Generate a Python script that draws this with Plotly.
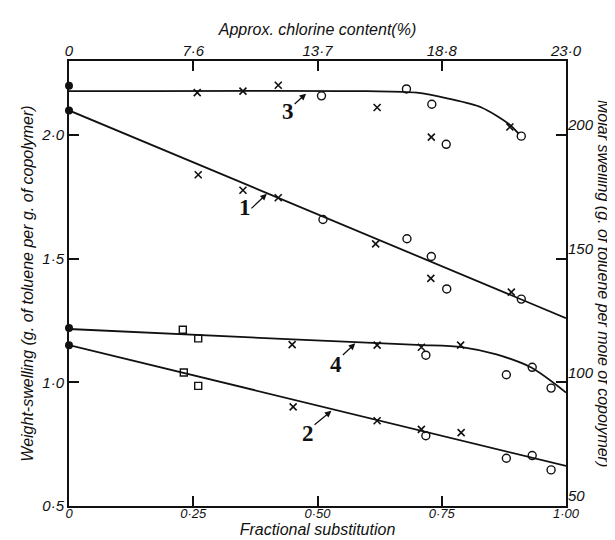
import plotly.graph_objects as go

# ---------------- data ----------------
FRAC_TICKS = [0, 0.25, 0.5, 0.75, 1.0]
FRAC_LABELS = ['0', '0·25', '0·50', '0·75', '1·00']
CHLORINE_LABELS = ['0', '7·6', '13·7', '18·8', '23·0']
WEIGHT_TICKS = [0.5, 1.0, 1.5, 2.0]
WEIGHT_LABELS = ['0·5', '1·0', '1·5', '2·0']
MOLAR_TICKS = [50, 100, 150, 200]
MOLAR_LABELS = ['50', '100', '150', '200']

# Curve 1
C1_CROSS_X = [0.260, 0.350, 0.421, 0.617, 0.728, 0.890]
C1_CROSS_Y = [1.840, 1.777, 1.747, 1.560, 1.421, 1.365]
C1_CIRC_X = [0.511, 0.680, 0.729, 0.760, 0.910]
C1_CIRC_Y = [1.659, 1.581, 1.509, 1.378, 1.337]
C1_DOT_X = [0.0]
C1_DOT_Y = [2.10]
C1_LINE_X = [0.0, 1.0]
C1_LINE_Y = [2.10, 1.26]

# Curve 3
C3_CROSS_X = [0.258, 0.350, 0.421, 0.620, 0.729, 0.887]
C3_CROSS_Y = [2.172, 2.178, 2.202, 2.112, 1.992, 2.033]
C3_CIRC_X = [0.508, 0.679, 0.730, 0.759, 0.910]
C3_CIRC_Y = [2.159, 2.187, 2.125, 1.963, 1.996]
C3_DOT_X = [0.0]
C3_DOT_Y = [2.20]
C3_CURVE_X = [0.0, 0.60, 0.70, 0.763, 0.83, 0.885, 0.905]
C3_CURVE_Y = [2.178, 2.178, 2.172, 2.148, 2.112, 2.045, 2.005]

# Curve 4
C4_SQ_X = [0.229, 0.260]
C4_SQ_Y = [1.213, 1.178]
C4_CROSS_X = [0.449, 0.620, 0.709, 0.788]
C4_CROSS_Y = [1.153, 1.151, 1.142, 1.151]
C4_CIRC_X = [0.718, 0.880, 0.932, 0.970]
C4_CIRC_Y = [1.110, 1.031, 1.061, 0.977]
C4_DOT_X = [0.0]
C4_DOT_Y = [1.22]
C4_CURVE_X = [0.0, 0.45, 0.70, 0.79, 0.86, 0.93, 1.0]
C4_CURVE_Y = [1.216, 1.174, 1.152, 1.143, 1.113, 1.060, 0.959]

# Curve 2
C2_SQ_X = [0.231, 0.260]
C2_SQ_Y = [1.040, 0.986]
C2_CROSS_X = [0.451, 0.620, 0.709, 0.789]
C2_CROSS_Y = [0.901, 0.845, 0.810, 0.797]
C2_CIRC_X = [0.718, 0.880, 0.932, 0.970]
C2_CIRC_Y = [0.784, 0.693, 0.704, 0.646]
C2_DOT_X = [0.0]
C2_DOT_Y = [1.15]
C2_LINE_X = [0.0, 1.0]
C2_LINE_Y = [1.151, 0.662]

# Curve labels: text, label position, arrow tail, arrow head
CURVE_LABELS = ['1', '2', '3', '4']
LABEL_X = [0.354, 0.481, 0.441, 0.538]
LABEL_Y = [1.709, 0.793, 2.094, 1.074]
ARROW_TAIL_X = [0.364, 0.491, 0.451, 0.548]
ARROW_TAIL_Y = [1.698, 0.824, 2.121, 1.105]
ARROW_HEAD_X = [0.398, 0.528, 0.477, 0.576]
ARROW_HEAD_Y = [1.763, 0.885, 2.168, 1.158]

# ---------------- figure ----------------
FONT = 'Liberation Sans'
BLACK = '#111111'

fig = go.Figure()

def line(x, y, spline=False):
    fig.add_trace(go.Scatter(
        x=x, y=y, mode='lines', showlegend=False, hoverinfo='skip',
        line=dict(color=BLACK, width=1.8,
                  shape='spline' if spline else 'linear', smoothing=0.8)))

def marks(x, y, symbol, size=8, width=1.4):
    fig.add_trace(go.Scatter(
        x=x, y=y, mode='markers', showlegend=False,
        marker=dict(symbol=symbol, size=size, color=BLACK,
                    line=dict(color=BLACK, width=width))))

line(C1_LINE_X, C1_LINE_Y)
line(C2_LINE_X, C2_LINE_Y)
line(C3_CURVE_X, C3_CURVE_Y, spline=True)
line(C4_CURVE_X, C4_CURVE_Y, spline=True)

for cx, cy in [(C1_CROSS_X, C1_CROSS_Y), (C3_CROSS_X, C3_CROSS_Y),
               (C4_CROSS_X, C4_CROSS_Y), (C2_CROSS_X, C2_CROSS_Y)]:
    marks(cx, cy, 'x-thin', size=7, width=1.6)
for cx, cy in [(C1_CIRC_X, C1_CIRC_Y), (C3_CIRC_X, C3_CIRC_Y),
               (C4_CIRC_X, C4_CIRC_Y), (C2_CIRC_X, C2_CIRC_Y)]:
    marks(cx, cy, 'circle-open', size=8, width=1.4)
for cx, cy in [(C4_SQ_X, C4_SQ_Y), (C2_SQ_X, C2_SQ_Y)]:
    marks(cx, cy, 'square-open', size=7, width=1.4)
for cx, cy in [(C1_DOT_X, C1_DOT_Y), (C3_DOT_X, C3_DOT_Y),
               (C4_DOT_X, C4_DOT_Y), (C2_DOT_X, C2_DOT_Y)]:
    fig.add_trace(go.Scatter(x=cx, y=cy, mode='markers', showlegend=False,
                             cliponaxis=False,
                             marker=dict(symbol='circle', size=8, color=BLACK)))

# invisible trace binding the secondary axes
fig.add_trace(go.Scatter(x=[0, 1], y=[50, 230], xaxis='x2', yaxis='y2',
                         mode='markers', marker=dict(opacity=0),
                         showlegend=False, hoverinfo='skip'))

tickfont = dict(family=FONT, size=15, color=BLACK, style='italic')
titlefont = dict(family=FONT, size=16, color=BLACK, style='italic')
axis_common = dict(showgrid=False, zeroline=False, showline=True,
                   linecolor=BLACK, linewidth=2, ticks='inside', ticklen=10,
                   tickwidth=1.5, tickcolor=BLACK)

fig.update_layout(
    width=615, height=540,
    margin=dict(l=61, r=57, t=53, b=42),
    paper_bgcolor='white', plot_bgcolor='white',
    xaxis=dict(range=[0, 1], tickvals=FRAC_TICKS, ticktext=FRAC_LABELS,
               ticklabelstandoff=-6,
               tickfont=dict(family=FONT, size=13, color=BLACK, style='italic'),
               title=dict(text='Fractional substitution', font=titlefont,
                          standoff=0),
               **axis_common),
    xaxis2=dict(range=[0, 1], tickvals=FRAC_TICKS, ticktext=CHLORINE_LABELS,
                overlaying='x', side='top', anchor='y',
                ticklabelstandoff=-3, tickfont=tickfont,
                title=dict(text='Approx. chlorine content(%)', font=titlefont,
                           standoff=2),
                **axis_common),
    yaxis=dict(range=[0.5, 2.3], tickvals=WEIGHT_TICKS, ticktext=WEIGHT_LABELS,
               tickfont=tickfont,
               title=dict(text='Weight-swelling (g. of toluene per g. of copolymer)',
                          font=titlefont, standoff=4),
               **axis_common),
    yaxis2=dict(range=[50, 230], tickvals=MOLAR_TICKS, ticktext=MOLAR_LABELS,
                overlaying='y', side='right', anchor='x',
                ticklabelstandoff=-3, ticklabelshift=-10, tickfont=tickfont,
                **axis_common),
)

fig.add_annotation(
    text='Molar swelling (g. of toluene per mole of copolymer)',
    xref='paper', yref='paper', x=1, y=0.5, xshift=48,
    textangle=90, showarrow=False, font=titlefont)

for t, lx, ly, tx, ty, hx, hy in zip(CURVE_LABELS, LABEL_X, LABEL_Y,
                                      ARROW_TAIL_X, ARROW_TAIL_Y,
                                      ARROW_HEAD_X, ARROW_HEAD_Y):
    fig.add_annotation(x=lx, y=ly, text=t, showarrow=False,
                       font=dict(family='Liberation Serif', size=23,
                                 color=BLACK, weight='bold'))
    fig.add_annotation(x=hx, y=hy, ax=tx, ay=ty, axref='x', ayref='y',
                       text='', showarrow=True, arrowhead=2, arrowsize=1,
                       arrowwidth=1.3, arrowcolor=BLACK)

fig.write_html('out.html')
